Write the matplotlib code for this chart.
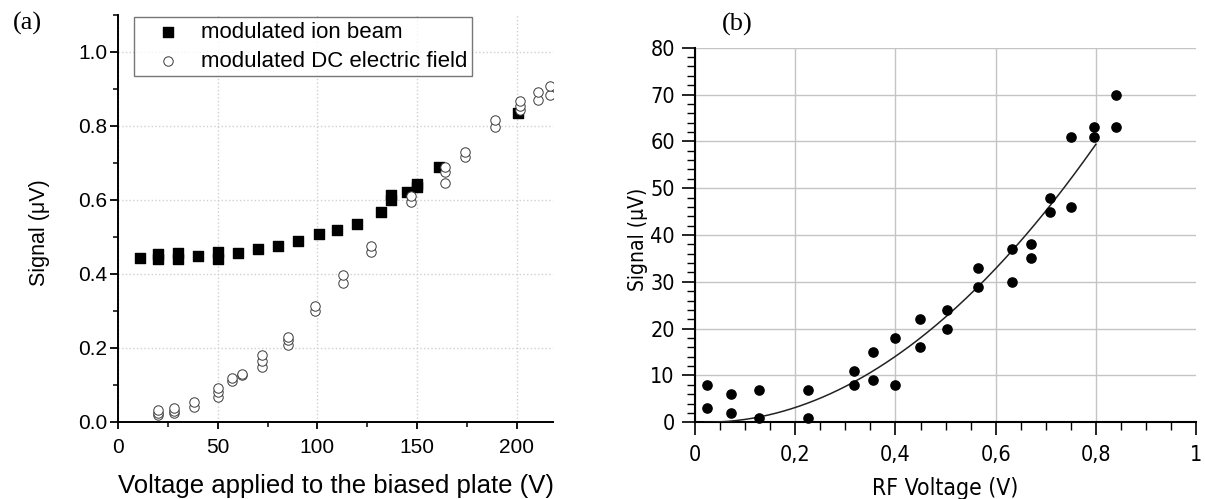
import numpy as np
import matplotlib
matplotlib.use("Agg")
import matplotlib.pyplot as plt
from matplotlib.ticker import MultipleLocator, FixedLocator

# ================================
# Data - panel (a)
# ================================
ion_x = [11, 20, 20, 30, 30, 40, 50, 50, 60, 70, 80, 90, 101, 110, 120,
         132, 137, 137, 145, 150, 150, 161, 201]
ion_y = [0.444, 0.453, 0.439, 0.457, 0.441, 0.449, 0.458, 0.441, 0.455,
         0.468, 0.476, 0.488, 0.509, 0.518, 0.534, 0.566, 0.613, 0.601,
         0.622, 0.644, 0.635, 0.689, 0.835]

dc_x = [20, 20, 20, 28, 28, 28, 38, 38, 50, 50, 50, 57, 57, 62, 62,
        72, 72, 72, 85, 85, 85, 99, 99, 113, 113, 127, 127, 147, 147,
        164, 164, 164, 174, 174, 189, 189, 202, 202, 202, 211, 211, 217, 217]
dc_y = [0.018, 0.024, 0.032, 0.023, 0.030, 0.036, 0.041, 0.052, 0.068,
        0.079, 0.092, 0.111, 0.119, 0.126, 0.130, 0.149, 0.164, 0.180,
        0.207, 0.221, 0.230, 0.300, 0.313, 0.376, 0.396, 0.459, 0.476,
        0.595, 0.610, 0.646, 0.676, 0.689, 0.716, 0.730, 0.797, 0.817,
        0.842, 0.853, 0.868, 0.871, 0.892, 0.883, 0.908]

# ================================
# Data - panel (b)
# ================================
rf_x = [0.024, 0.024, 0.071, 0.071, 0.127, 0.127, 0.225, 0.225, 0.318, 0.318,
        0.356, 0.356, 0.399, 0.399, 0.449, 0.449, 0.502, 0.502, 0.564, 0.564,
        0.632, 0.632, 0.670, 0.670, 0.708, 0.708, 0.750, 0.750, 0.796, 0.796,
        0.841, 0.841]
rf_y = [8, 3, 6, 2, 7, 1, 7, 1, 11, 8, 15, 9, 18, 8, 22, 16, 24, 20, 33, 29,
        37, 30, 38, 35, 48, 45, 61, 46, 63, 61, 70, 63]

# quadratic fit drawn in the figure: y = a * (x - x0)^2
fit_a = 97.6
fit_x0 = 0.02
fit_range = (0.02, 0.80)

rf_ticks = [0, 0.2, 0.4, 0.6, 0.8, 1.0]
rf_ticklabels = ["0", "0,2", "0,4", "0,6", "0,8", "1"]

# ================================
# Figure
# ================================
fig = plt.figure(figsize=(12.05, 4.99), dpi=100)
sans = "Liberation Sans"

# ---------- panel (a) ----------
ax1 = fig.add_axes([0.0982, 0.1549, 0.361, 0.815])
ax1.scatter(ion_x, ion_y, marker="s", s=46, color="black", zorder=3,
            label="modulated ion beam")
ax1.scatter(dc_x, dc_y, marker="o", s=46, facecolors="white",
            edgecolors="#3a3a3a", linewidths=0.7, zorder=4,
            label="modulated DC electric field")
ax1.set_xlim(0, 218.5)
ax1.set_ylim(0, 1.1)
ax1.xaxis.set_major_locator(MultipleLocator(50))
ax1.xaxis.set_minor_locator(MultipleLocator(25))
ax1.yaxis.set_major_locator(FixedLocator([0, 0.2, 0.4, 0.6, 0.8, 1.0]))
ax1.yaxis.set_minor_locator(MultipleLocator(0.1))
ax1.yaxis.set_major_formatter(plt.FuncFormatter(lambda v, p: f"{v:.1f}"))
ax1.grid(True, which="major", linestyle=":", color="#d0d0d0", linewidth=1)
ax1.set_axisbelow(True)
for side in ["top", "right"]:
    ax1.spines[side].set_visible(False)
for side in ["left", "bottom"]:
    ax1.spines[side].set_linewidth(1.4)
ax1.tick_params(axis="y", which="major", direction="out", length=6, width=1.3,
                labelsize=15, pad=2)
ax1.tick_params(axis="x", which="major", direction="out", length=5, width=1.3,
                labelsize=15, pad=7)
ax1.tick_params(which="minor", direction="out", length=3.5, width=1.1)
for lbl in ax1.get_xticklabels() + ax1.get_yticklabels():
    lbl.set_fontfamily(sans)
ax1.set_xlabel("Voltage applied to the biased plate (V)", fontsize=18.5,
               fontfamily=sans)
ax1.xaxis.set_label_coords(0.5, -0.128)
ax1.set_ylabel("Signal (\u03bcV)", fontsize=15.5, fontfamily=sans)
ax1.yaxis.set_label_coords(-0.158, 0.466)
leg = ax1.legend(loc="upper left", bbox_to_anchor=(134.3 / 1205, 1 - 17.3 / 499),
                 bbox_transform=fig.transFigure, borderaxespad=0,
                 prop={"family": sans, "size": 16}, frameon=True,
                 fancybox=False, edgecolor="#555555", handlelength=2.6,
                 handletextpad=0.2, borderpad=0.2, labelspacing=0.37,
                 scatterpoints=1)
leg.get_frame().set_linewidth(1.0)
fig.text(0.0224, 0.954, "(a)", fontsize=19, fontfamily="Liberation Serif",
         ha="center", va="center")

# ---------- panel (b) ----------
ax2 = fig.add_axes([0.5768, 0.1537, 0.4158, 0.7507])
fit_x = np.linspace(fit_range[0], fit_range[1], 200)
ax2.plot(fit_x, fit_a * (fit_x - fit_x0) ** 2, color="#222222",
         linewidth=1.1, zorder=3)
ax2.scatter(rf_x, rf_y, s=44, color="black", zorder=4, clip_on=False)
ax2.set_xlim(0, 1.0)
ax2.set_ylim(0, 80)
ax2.set_xticks(rf_ticks)
ax2.set_xticklabels(rf_ticklabels)
ax2.xaxis.set_minor_locator(MultipleLocator(0.05))
ax2.yaxis.set_major_locator(MultipleLocator(10))
ax2.yaxis.set_minor_locator(MultipleLocator(2))
ax2.grid(True, which="major", color="#c4c4c4", linewidth=1.0)
ax2.get_xgridlines()[-1].set_visible(False)
ax2.set_axisbelow(True)
for side in ["top", "right"]:
    ax2.spines[side].set_visible(False)
for side in ["left", "bottom"]:
    ax2.spines[side].set_linewidth(1.5)
ax2.tick_params(axis="y", which="major", direction="out", length=9.5,
                width=1.2, labelsize=15.5, pad=5)
ax2.tick_params(axis="x", which="major", direction="out", length=9.5,
                width=1.2, labelsize=15.5, pad=7)
ax2.tick_params(which="minor", direction="out", length=5.5, width=1.0)
for lbl in ax2.get_xticklabels() + ax2.get_yticklabels():
    lbl.set_fontfamily("DejaVu Sans")
    lbl.set_fontstretch("condensed")
ax2.set_xlabel("RF Voltage (V)", fontsize=16.5, fontstretch="condensed")
ax2.xaxis.set_label_coords(0.5, -0.145)
ax2.set_ylabel("Signal (\u03bcV)", fontsize=15, fontstretch="condensed")
ax2.yaxis.set_label_coords(-0.094, 0.487)
fig.text(0.6116, 0.95, "(b)", fontsize=19, fontfamily="Liberation Serif",
         ha="center", va="center")

plt.savefig("out.png", dpi=100)
plt.close()
